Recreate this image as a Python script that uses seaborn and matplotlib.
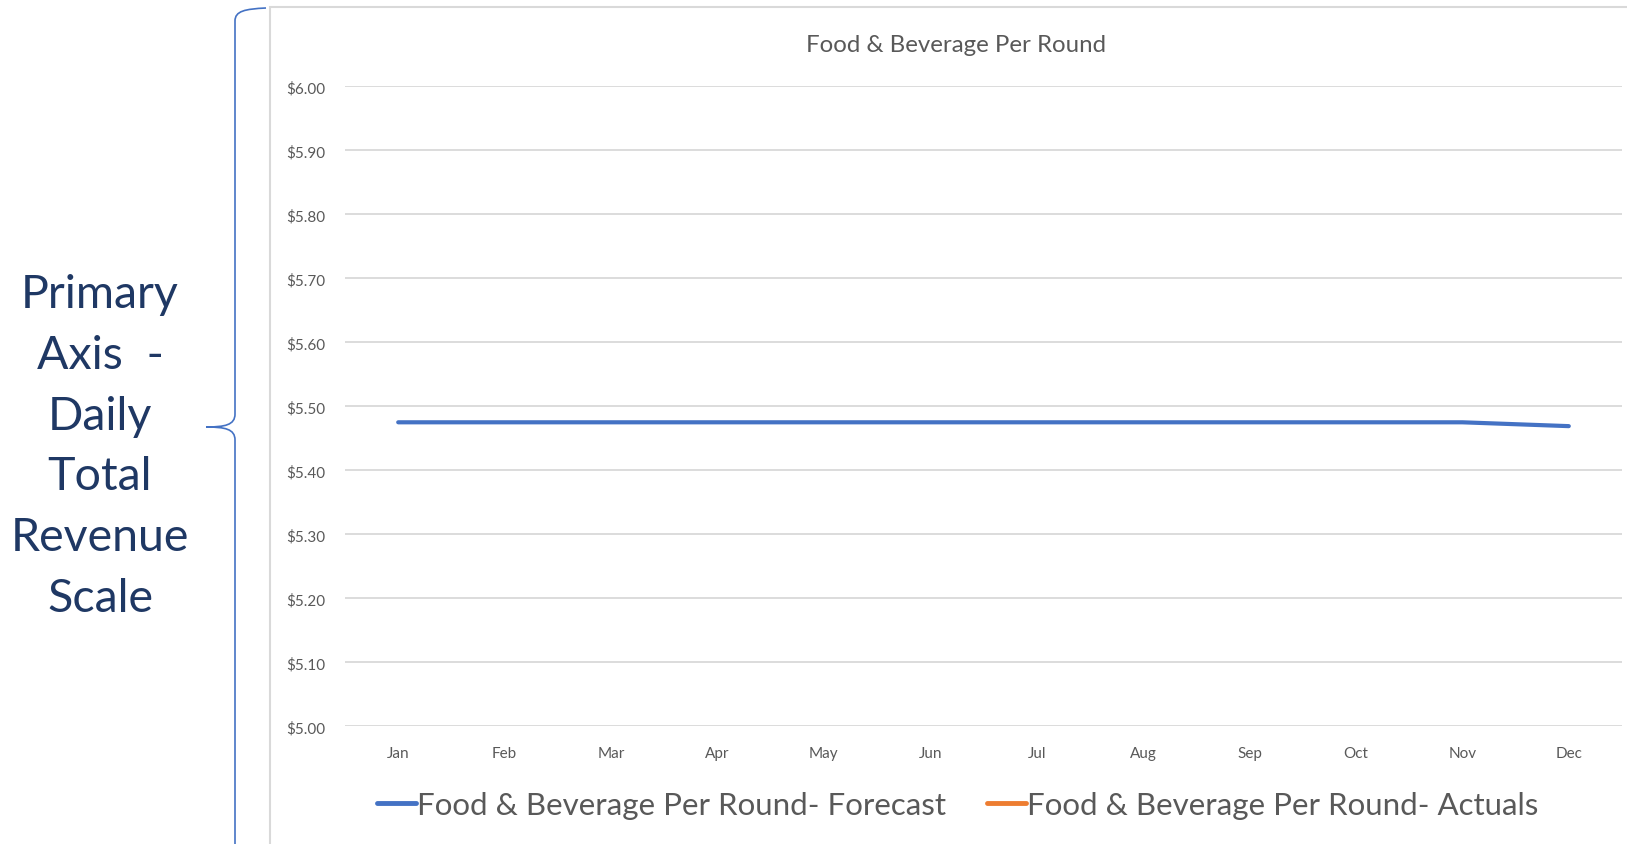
import matplotlib
matplotlib.use("Agg")
import matplotlib.pyplot as plt
import seaborn as sns
import numpy as np
import pandas as pd
from matplotlib.patches import Rectangle, PathPatch
from matplotlib.path import Path
from matplotlib.lines import Line2D
from matplotlib.ticker import FuncFormatter, MultipleLocator

months = ["Jan", "Feb", "Mar", "Apr", "May", "Jun", "Jul", "Aug", "Sep", "Oct", "Nov", "Dec"]
forecast = [5.475, 5.475, 5.475, 5.475, 5.475, 5.475, 5.475, 5.475, 5.475, 5.475, 5.475, 5.469]
actuals = [np.nan] * 12
series_names = ["Food & Beverage Per Round- Forecast", "Food & Beverage Per Round- Actuals"]
title = "Food & Beverage Per Round"
side_text = "Primary\nAxis  -\nDaily\nTotal\nRevenue\nScale"

sns.set_theme(style="white")
plt.rcParams['font.family'] = ['Lato', 'DejaVu Sans']

W, H = 1627, 845
fig = plt.figure(figsize=(W / 100, H / 100), dpi=100)
ax = fig.add_axes([345 / W, 1 - 727.3 / H, 1277 / W, 640 / H])

df = pd.DataFrame({
    "Month": months * 2,
    "Value": forecast + actuals,
    "Series": [series_names[0]] * 12 + [series_names[1]] * 12,
})
df["Month"] = pd.Categorical(df["Month"], categories=months, ordered=True)
palette = {series_names[0]: "#4472C4", series_names[1]: "#ED7D31"}
sns.lineplot(data=df, x="Month", y="Value", hue="Series", palette=palette,
             linewidth=3.0, ax=ax, legend=False, sort=False)
for ln in ax.lines:
    ln.set_solid_capstyle("round")

ax.set_xlim(-0.5, 11.5)
ax.set_ylim(5.0, 6.0)
ax.yaxis.set_major_locator(MultipleLocator(0.1))
ax.yaxis.set_major_formatter(FuncFormatter(lambda v, p: f"${v:.2f}"))
ax.grid(axis="y", color="#D9D9D9", linewidth=1.3)
ax.grid(axis="x", visible=False)
for s in ax.spines.values():
    s.set_visible(False)
ax.set_xlabel("")
ax.set_ylabel("")
ax.tick_params(axis="both", length=0, labelsize=11, labelcolor="#595959")
ax.tick_params(axis="y", pad=14)
ax.tick_params(axis="x", pad=14)

fig.text(956 / W, 1 - 46 / H, title, ha="center", va="center", fontsize=17.3, color="#595959")

handles = [Line2D([0], [0], color=palette[n], linewidth=3.5) for n in series_names]
fig.legend(handles, series_names, loc="center", bbox_to_anchor=(958 / W, 1 - 806 / H),
           ncol=2, frameon=False, fontsize=22.5, labelcolor="#595959",
           handlelength=1.23, handletextpad=0.05, columnspacing=1.3)

# chart frame
fig.add_artist(Rectangle((270 / W, -0.05), 1.2, 1 - 8 / H + 0.05, transform=fig.transFigure,
                         fill=False, edgecolor="#D9D9D9", linewidth=1.5))

# brace
def fx(x):
    return x / W
def fy(y):
    return 1 - y / H
verts = [
    (fx(266), fy(9)), (fx(245), fy(10)), (fx(235), fy(12)), (fx(235), fy(22)),
    (fx(235), fy(415)),
    (fx(235), fy(426)), (fx(225), fy(428)), (fx(206), fy(428)),
    (fx(225), fy(428)), (fx(235), fy(430)), (fx(235), fy(441)),
    (fx(235), fy(850)),
]
codes = [Path.MOVETO, Path.CURVE4, Path.CURVE4, Path.CURVE4,
         Path.LINETO,
         Path.CURVE4, Path.CURVE4, Path.CURVE4,
         Path.CURVE4, Path.CURVE4, Path.CURVE4,
         Path.LINETO]
fig.add_artist(PathPatch(Path(verts, codes), transform=fig.transFigure, fill=False,
                         edgecolor="#4472C4", linewidth=1.2))

fig.text(100 / W, 1 - 447 / H, side_text, ha="center", va="center", fontsize=33.5,
         color="#1F3864", linespacing=1.55)

fig.savefig("out.png", dpi=100)
